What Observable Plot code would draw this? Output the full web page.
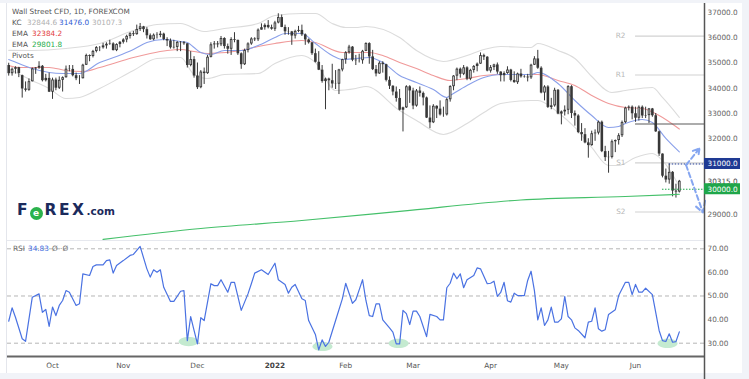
<!DOCTYPE html>
<html><head><meta charset="utf-8">
<script src="https://cdn.jsdelivr.net/npm/d3@7"></script>
<script src="https://cdn.jsdelivr.net/npm/@observablehq/plot@0.6"></script>
<style>
body{margin:0;background:#fff;}
#wrap{position:relative;width:749px;height:379px;overflow:hidden;background:#fff;font-family:"DejaVu Sans",sans-serif;}
#wrap svg{position:absolute;left:0;}
.lg{position:absolute;font-size:7.3px;line-height:1;white-space:nowrap;color:#555;}
.bar{position:absolute;}
</style></head><body><div id="wrap"></div>
<script>
// ---- data (day index: 0 = 1 Oct 2021, weekdays; first candle = 14 Sep 2021) ----
const firstDay = -13;
const opens = [34900,34577,34751,34814,34500,33970,33919,34258,34764,34798,34869,34299,34390,
33844,34326,34002,34314,34417,34754,34746,34496,34378,34377,34912,35295,35259,35457,35609,35603,35677,35741,35756,35490,35731,
35820,35913,36053,36158,36124,36328,36432,36320,36080,35921,36100,36087,36143,35931,35871,35602,35619,35814,35804,35760,34899,35136,
34484,34022,34640,34580,35227,35719,35754,35720,35971,35650,35545,35927,35898,35365,34932,35493,35754,35951,35920,36302,36398,36489,36398,
36338,36585,36800,36408,36236,36231,36068,36252,36290,36114,35912,35800,35369,35029,34715,34265,34365,34297,34168,34161,34725,
35131,35405,35629,35111,35089,35091,35463,35768,35241,34738,34566,34989,34934,34312,34079,33850,33596,33131,33224,34058,
33893,33294,33891,33795,33615,32818,32633,33286,33174,32944,32945,33545,34063,34481,34755,34553,34808,34359,34708,34862,34955,35294,35229,
34678,34818,34922,34641,34497,34584,34721,34309,34221,34565,34451,34440,34412,34912,35161,34793,33811,34050,33240,33302,33917,
32977,33062,33129,34061,32998,32900,32246,32161,31834,31730,32197,32223,32655,31490,31253,31262,31880,31929,32120,32637,33213,33250,
32990,32813,33248,32900,32916,33180,32910,32273,31393,30517,30365,30669,29927,29889];
const highs = [34990,34800,34850,34830,34520,34250,34370,34800,34820,35050,34900,34550,34600,
34400,34400,34450,34450,34880,34900,34900,34600,34500,34950,35350,35320,35500,35650,35650,35780,35800,35900,35800,35760,35850,
35960,36100,36200,36250,36500,36565,36450,36400,36150,36150,36200,36250,36180,36000,35950,35900,35850,35850,35850,35760,35450,35250,
35000,34700,34800,35300,35800,35850,35850,36050,36000,35750,36000,36200,35900,35400,35550,35800,36000,36000,36350,36550,36550,36680,36500,
36650,36950,36900,36500,36400,36250,36300,36450,36500,36150,35950,35800,35550,35450,34900,34400,34400,34950,34700,34750,35150,
35450,35700,35650,35300,35350,35500,35800,35800,35500,34900,35050,35050,34950,34450,34100,34050,33950,33250,34100,34100,
34000,33950,34050,33850,33650,33300,33350,33300,33500,33250,33600,34100,34500,34800,34800,34900,34850,34750,34900,35000,35400,35350,35250,
34900,34950,35000,34650,34650,34850,34750,34650,34600,34750,34500,34550,34950,35250,35500,34850,34100,34100,33600,34000,33950,
33100,33300,34100,34100,33100,32950,32600,32400,32000,32300,32350,32700,32700,31700,31500,31950,31950,32200,32700,33250,33300,33300,
33250,33300,33300,33250,33200,33200,33000,32300,31400,30800,31000,30700,30200,30350];
const lows = [34480,34480,34560,34420,33610,33850,33880,34250,34550,34750,34250,34250,33830,
33560,33900,33950,33850,34400,34650,34450,34300,34150,34370,34900,35050,35200,35400,35450,35550,35550,35700,35480,35450,35600,
35750,35800,35950,36050,36100,36250,36200,35950,35900,35880,35950,36000,35880,35650,35550,35550,35450,35450,35700,34800,34850,34400,
33950,33980,34150,34550,35200,35550,35600,35650,35550,35350,35300,35800,35300,34750,34900,35400,35700,35850,35850,36300,36300,36350,36300,
36250,36550,36400,36100,36100,35700,35950,36200,36050,35700,35750,35300,35000,34700,34200,33150,33900,34000,33950,33750,34650,
34950,35350,35050,34900,35000,34950,35450,34950,34700,34450,34550,34600,34250,33950,33700,33450,33100,32270,33200,33400,
33150,33250,33650,33300,32800,32400,32600,32800,32900,32850,32900,33450,33900,34300,34400,34500,34300,34300,34600,34650,34950,35100,34650,
34600,34700,34550,34250,34250,34550,34250,34200,34150,34400,34400,34250,34350,34900,34750,33780,33500,33200,33150,33250,32950,
32550,32900,32950,32800,32500,32200,31900,31800,31230,31700,31900,32150,31450,31100,30635,31200,31450,31750,32050,32600,33100,32750,
32650,32700,32800,32800,32600,32850,32250,31300,30450,30250,30200,29700,29650,29850];
const closes = [34577,34751,34814,34584,33970,33919,34258,34764,34798,34869,34299,34390,33844,
34326,34002,34314,34417,34754,34746,34496,34378,34377,34912,35295,35259,35457,35609,35603,35677,35741,35756,35490,35731,35820,
35913,36053,36158,36124,36328,36432,36320,36080,35921,36100,36087,36143,35931,35871,35602,35619,35814,35804,35760,34899,35136,34484,
34022,34640,34580,35227,35719,35754,35720,35971,35650,35545,35927,35898,35365,34932,35493,35754,35951,35920,36302,36398,36489,36398,36338,
36585,36800,36408,36236,36231,36068,36252,36290,36114,35912,35800,35369,35029,34715,34265,34365,34297,34168,34161,34725,35131,
35405,35629,35111,35089,35091,35463,35768,35241,34738,34566,34989,34934,34312,34079,33850,33596,33131,33224,34058,33893,
33294,33891,33795,33615,32818,32633,33286,33174,32944,32945,33545,34063,34481,34755,34553,34808,34359,34708,34862,34955,35294,35229,34678,
34818,34922,34641,34497,34584,34721,34309,34221,34565,34451,34440,34412,34912,35161,34793,33811,34050,33240,33302,33917,32977,
33062,33129,34061,32998,32900,32246,32161,31834,31730,32197,32223,32655,31490,31253,31262,31880,31929,32120,32637,33213,33250,32990,
32813,33248,32900,32916,33180,32910,32273,31393,30517,30365,30669,29927,29889,30315];

const kcUpper = [[-13,35500],[-6,35495],[4,35574],[14,35772],[24,36287],[31,36525],[38,36564],[45,36248],[51,36366],[61,36564],[66,36881],[74,36960],[78,36960],[83,36564],[87,36406],[90,36406],[93,36446],[103,36010],[108,35495],[116,35060],[123,35297],[128,35535],[133,35654],[142,35614],[144,35772],[150,35495],[155,35178],[160,34465],[166,33832],[170,33911],[178,34030],[181,33634],[186,32845]];
const kcMiddle = [[-13,35139],[-10,34980],[-6,34782],[-1,34624],[3,34584],[8,34584],[14,35020],[19,35258],[24,35535],[28,35812],[33,35931],[38,35852],[40,35812],[42,35614],[44,35416],[47,35337],[51,35495],[56,35495],[61,35693],[66,36010],[69,36168],[74,36168],[78,35772],[83,35297],[86,35139],[90,35178],[94,35218],[98,35020],[103,34505],[108,34228],[113,33951],[117,33634],[118,33713],[123,34109],[128,34426],[133,34545],[142,34545],[144,34624],[150,34188],[155,33515],[160,32921],[165,32446],[168,32486],[170,32604],[175,32763],[178,32644],[182,32010],[186,31476]];
const kcLower = [[-13,34760],[-6,34300],[-1,33990],[4,33594],[8,33634],[14,33990],[24,34703],[31,35178],[38,35218],[42,34545],[46,34386],[51,34545],[61,34584],[66,34980],[74,35297],[78,35020],[84,33911],[90,33990],[93,34070],[103,33119],[108,32723],[116,32169],[123,32604],[128,33040],[133,33396],[142,33515],[144,33515],[150,33040],[155,32446],[160,31654],[165,30941],[168,30941],[173,31258],[178,31416],[181,31139],[186,30107]];
const emaRed = [[-13,34901],[-10,34822],[-1,34822],[4,34703],[9,34664],[14,34822],[19,35020],[24,35218],[29,35376],[34,35495],[38,35535],[42,35456],[46,35376],[56,35495],[61,35654],[66,35772],[74,35891],[78,35812],[86,35416],[94,35416],[98,35297],[103,35020],[108,34782],[113,34505],[118,34307],[123,34386],[128,34505],[133,34545],[144,34545],[150,34307],[155,34109],[160,33713],[165,33396],[170,33238],[175,33198],[180,32921],[186,32384]];
const emaGreen = [[15,28011],[44,28446],[74,28763],[103,29120],[139,29575],[170,29713],[184,29790],[186,29802]];

const rsi = [[-13,39.3],[-12,45.0],[-11,41.0],[-9,31.9],[-8,30.8],[-6,49.5],[-4,50.9],[-3,43.1],[-2,44.3],[-1,37.1],[0,45.3],[1,41.7],[2,46.0],[3,48.1],[4,52.3],[5,51.6],[7,46.0],[8,46.7],[9,59.4],[11,58.7],[12,62.5],[13,63.2],[15,63.2],[16,65.0],[17,65.3],[18,59.7],[19,62.9],[21,65.0],[23,67.2],[24,67.6],[25,69.3],[26,71.0],[28,61.5],[29,58.0],[30,61.1],[31,60.1],[32,61.1],[33,53.7],[35,47.7],[36,47.7],[38,52.0],[39,52.3],[40,31.1],[41,41.3],[42,35.4],[43,29.7],[44,40.8],[45,39.6],[47,55.2],[48,54.4],[49,54.4],[50,56.9],[52,51.6],[53,55.8],[54,55.8],[56,43.9],[58,50.9],[59,55.2],[60,59.7],[62,61.1],[64,59.1],[66,63.9],[67,56.9],[69,54.9],[70,51.2],[71,53.7],[72,54.9],[74,48.8],[75,48.1],[76,39.6],[78,33.7],[79,27.2],[80,31.4],[81,28.6],[82,30.4],[84,39.6],[86,48.8],[87,55.4],[89,46.9],[90,48.4],[91,52.6],[92,56.9],[93,48.1],[94,41.7],[95,41.3],[96,46.7],[97,46.7],[98,39.9],[100,36.5],[101,34.7],[102,29.7],[103,29.7],[104,43.9],[105,42.5],[106,37.9],[107,43.6],[108,43.6],[109,41.3],[111,32.8],[112,42.2],[114,41.3],[115,39.9],[116,39.9],[117,53.5],[118,55.4],[119,59.7],[120,57.3],[121,59.4],[122,53.5],[123,56.9],[125,58.7],[126,61.9],[127,61.5],[129,55.2],[130,55.4],[131,56.3],[132,49.8],[133,51.5],[134,55.8],[135,48.0],[136,47.4],[137,51.2],[138,50.2],[140,50.2],[141,56.6],[142,60.5],[143,52.3],[144,39.9],[145,45.0],[146,37.5],[147,39.9],[148,45.3],[149,38.9],[150,38.9],[151,40.3],[152,49.8],[153,41.3],[154,39.9],[155,36.5],[156,35.4],[158,32.3],[159,38.9],[160,39.3],[161,45.0],[162,36.1],[163,35.1],[164,35.7],[165,42.2],[167,44.2],[168,50.2],[170,55.8],[171,55.8],[172,50.6],[173,54.9],[174,51.6],[175,51.6],[176,53.3],[178,50.6],[180,35.4],[181,31.1],[182,30.7],[183,34.0],[184,30.4],[185,30.7],[186,34.8]];
const rsiLowDays = [40.4, 80.1, 102.7, 182.5];
const rsiLowValues = [30.7, 28.6, 29.9, 29.9];

const monthTicks = [0,21,43,87,107,130,151,173];
const monthLabels = ["Oct","Nov","Dec","Feb","Mar","Apr","May","Jun"];
const yearTick = [66];
const yearLabel = "2022";
const priceTicks = [37000,36000,35000,34000,33000,32000,29000];
const lastPrice = 30315;
const rsiTicks = [70,60,50,40,30];
const rsiGuides = [70,50,30];
const pivotNames = ["R2","R1","P","S1","S2"];
const pivotValues = [36063,34527,32581,31045,29099];
const pivotStartDay = 173;
const levelValues = [31000,30000];
const levelStartDays = [183,181];
const arrowStart = [188,30960];
const arrowEnds = [[192,31620],[193,29080]];
const kcValues = [32844.6,31476.0,30107.3];
const emaValues = [32384.2,29801.8];
const rsiValue = 34.83;

// ---- build ----
const X0 = -13.36, X1 = 193.47;
const candles = opens.map((open,k)=>({day:firstDay+k, open, high:highs[k], low:lows[k], close:closes[k]}));
const upC = candles.filter(d=>d.close>=d.open);
const dnC = candles.filter(d=>d.close<d.open);
const ser = a => a.map(([day,value])=>({day,value}));
const pivots = pivotNames.map((name,k)=>({name, value:pivotValues[k]}));
const levelColors = ["#1f3a93","#1fa64a"];
const levels = levelValues.map((value,k)=>({value, start:levelStartDays[k], color:levelColors[k]}));
const arrows = arrowEnds.map(([d,v])=>({x1:arrowStart[0], y1:arrowStart[1], x2:d, y2:v}));
const lowsRsi = rsiLowDays.map((day,k)=>({day, value:rsiLowValues[k]}));

const st = {fontFamily:"DejaVu Sans", fontSize:"7.3px", color:"#666", background:"transparent", overflow:"visible"};

const pricePlot = Plot.plot({
  width:749, height:240, marginLeft:7, marginRight:45, marginTop:5, marginBottom:0,
  style:st,
  x:{domain:[X0,X1], axis:null},
  y:{domain:[27970,37277], axis:null},
  marks:[
    Plot.line(ser(kcUpper),{x:"day",y:"value",stroke:"#dcdcdc",strokeWidth:1.1,curve:"monotone-x"}),
    Plot.line(ser(kcLower),{x:"day",y:"value",stroke:"#dcdcdc",strokeWidth:1.1,curve:"monotone-x"}),
    Plot.line(ser(emaRed),{x:"day",y:"value",stroke:"#f09a9a",strokeWidth:1.1,curve:"monotone-x"}),
    Plot.line(ser(kcMiddle),{x:"day",y:"value",stroke:"#8aa0ea",strokeWidth:1.1,curve:"monotone-x"}),
    Plot.ruleY(pivots,{y:"value",x1:pivotStartDay,x2:X1,stroke:d=>d.name==="P"?"#5a5a5a":"#d2d2d2",strokeWidth:1.1}),
    Plot.text(pivots.filter(d=>d.name!=="P"),{x:pivotStartDay,y:"value",text:"name",textAnchor:"end",dx:-10,fill:"#b8b8b8"}),
    Plot.ruleX(candles,{x:"day",y1:"high",y2:"low",stroke:"#383838",strokeWidth:1}),
    Plot.ruleX(dnC,{x:"day",y1:"open",y2:"close",stroke:"#383838",strokeWidth:2.6}),
    Plot.ruleX(upC,{x:"day",y1:"close",y2:"open",stroke:"#383838",strokeWidth:2.6}),
    Plot.ruleX(upC.filter(d=>d.close-d.open>100),{x:"day",y1:"close",y2:"open",stroke:"#e8e8e8",strokeWidth:0.8,insetTop:0.9,insetBottom:0.9}),
    Plot.line(ser(emaGreen),{x:"day",y:"value",stroke:"#45c06a",strokeWidth:1.2,curve:"monotone-x"}),
    Plot.ruleY(levels,{y:"value",x1:"start",x2:X1,stroke:"color",strokeWidth:1,strokeDasharray:"1.5,1.5"}),
    Plot.arrow(arrows,{x1:"x1",y1:"y1",x2:"x2",y2:"y2",stroke:"#86a6f0",strokeWidth:2,strokeDasharray:"5,3",headLength:9,bend:false}),
    Plot.ruleX([X1],{stroke:"#555",strokeWidth:1.5,insetTop:-2}),
    Plot.axisY(priceTicks,{anchor:"right",label:null,tickSize:0,tickPadding:3,tickFormat:d=>d.toFixed(1),fill:"#666"}),
    Plot.text([lastPrice],{x:X1,y:d=>d,text:d=>d.toFixed(1),textAnchor:"start",dx:3,fill:"#444"}),
    Plot.rect(levels,{x1:X1,x2:X1,y1:"value",y2:"value",insetRight:-36,insetTop:-5.5,insetBottom:-5.5,fill:"color"}),
    Plot.text(levels,{x:X1,y:"value",text:d=>d.value.toFixed(1),textAnchor:"start",dx:3,fill:"white"})
  ]
});
pricePlot.style.top = "0px";

const ellipseSym = {draw(ctx){const rx=10,ry=4.6,k=0.5523;
  ctx.moveTo(rx,0);ctx.bezierCurveTo(rx,ry*k,rx*k,ry,0,ry);ctx.bezierCurveTo(-rx*k,ry,-rx,ry*k,-rx,0);
  ctx.bezierCurveTo(-rx,-ry*k,-rx*k,-ry,0,-ry);ctx.bezierCurveTo(rx*k,-ry,rx,-ry*k,rx,0);ctx.closePath();}};

const rsiPlot = Plot.plot({
  width:749, height:139, marginLeft:7, marginRight:45, marginTop:0, marginBottom:23,
  style:st,
  x:{domain:[X0,X1], axis:null},
  y:{domain:[24.36,73.52], axis:null},
  marks:[
    Plot.ruleY(rsiGuides,{stroke:"#b5b5b5",strokeDasharray:"4,3"}),
    Plot.dot(lowsRsi,{x:"day",y:"value",symbol:ellipseSym,fill:"#c4ead0",stroke:null,r:5}),
    Plot.line(ser(rsi),{x:"day",y:"value",stroke:"#4a72e2",strokeWidth:1.2}),
    Plot.ruleY([24.36],{stroke:"#666",strokeWidth:2.2}),
    Plot.ruleX([X1],{stroke:"#555",strokeWidth:1.5,insetBottom:-23}),
    Plot.axisY(rsiTicks,{anchor:"right",label:null,tickSize:0,tickPadding:3,tickFormat:d=>d.toFixed(2),fill:"#666"}),
    Plot.axisX(monthTicks,{anchor:"bottom",label:null,tickSize:0,tickPadding:6,tickFormat:d=>monthLabels[monthTicks.indexOf(d)],fill:"#555"}),
    Plot.axisX(yearTick,{anchor:"bottom",label:null,tickSize:0,tickPadding:6,tickFormat:()=>yearLabel,fill:"#444",fontWeight:"bold"})
  ]
});
rsiPlot.style.top = "240px";

const wrap = document.getElementById("wrap");
function bar(l,t,w,h,c){const d=document.createElement("div");d.className="bar";d.style.cssText=`left:${l}px;top:${t}px;width:${w}px;height:${h}px;background:${c}`;wrap.appendChild(d);}
bar(0,0,749,3,"#f1f3f8");
bar(0,373,749,6,"#f1f3f8");
bar(742,0,7,379,"#f1f3f8");
bar(6,3,1,370,"#e4e6ec");
bar(7,240,697,1,"#e6e8ee");
wrap.appendChild(pricePlot);
wrap.appendChild(rsiPlot);

function txt(l,cy,s,c){const d=document.createElement("div");d.className="lg";d.style.left=l+"px";d.style.top=(cy-4)+"px";if(c)d.style.color=c;d.textContent=s;wrap.appendChild(d);}
txt(12,12,"Wall Street CFD, 1D, FOREXCOM","#555");
txt(12,23,"KC","#555");
txt(27,23,kcValues[0].toFixed(1),"#b0b0b0");
txt(59,23,kcValues[1].toFixed(1),"#2f5bd3");
txt(92,23,kcValues[2].toFixed(1),"#b0b0b0");
txt(12,34,"EMA","#555");
txt(32,34,emaValues[0].toFixed(1),"#e23b3b");
txt(12,45,"EMA","#555");
txt(32,45,emaValues[1].toFixed(1),"#1fae4c");
txt(12,56,"Pivots","#555");
txt(13,249,"RSI","#666");
txt(28,249,rsiValue.toFixed(2),"#3d6be0");
txt(52,249,"Ø ·Ø","#777");

// logo
const logo = document.createElement("div");
logo.style.cssText="position:absolute;left:17px;top:202px;white-space:nowrap;font-family:'DejaVu Sans';font-weight:bold;color:#1b2a5c;line-height:1;";
logo.innerHTML = '<span style="font-size:15.5px;letter-spacing:1px">F</span>'+
 '<span style="display:inline-block;width:13px;height:13px;border-radius:50%;background:#2bb24c;vertical-align:-1px;margin:0 2px 0 1px;color:#fff;font-size:9px;text-align:center;line-height:13px">e</span>'+
 '<span style="font-size:15.5px;letter-spacing:2.5px">REX</span>'+
 '<span style="font-size:10.5px">.com</span>';
wrap.appendChild(logo);
</script></body></html>
